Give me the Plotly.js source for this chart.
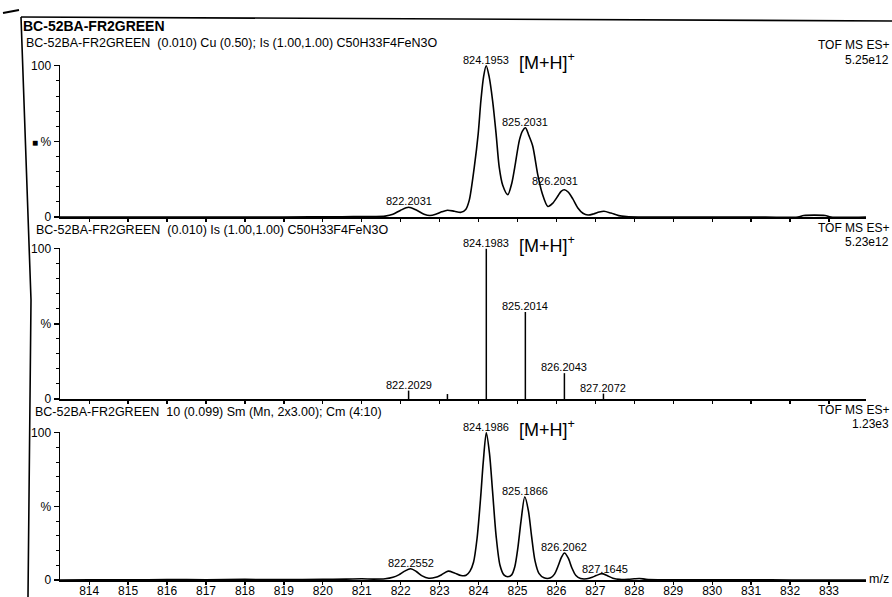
<!DOCTYPE html>
<html>
<head>
<meta charset="utf-8">
<script src="https://cdn.plot.ly/plotly-3.0.1.min.js"></script>
<style>
  html, body { margin: 0; padding: 0; background: #ffffff; }
  #chart { width: 892px; height: 597px; }
</style>
</head>
<body>
<div id="chart"></div>
<script>
// ---- Spectrum data -------------------------------------------------------
// Calculated isotope pattern (profile), relative intensity %
const calcProfileMz = [813.25, 815, 817, 819, 820.5, 821.3, 821.6, 821.8, 822.0, 822.2031, 822.4, 822.6, 822.75,
  822.9, 823.05, 823.2, 823.38, 823.55, 823.67, 823.76, 823.89, 823.99, 824.06, 824.13, 824.1953, 824.27,
  824.36, 824.45, 824.53, 824.62, 824.75, 824.85, 824.93, 825.05, 825.13, 825.2031, 825.29, 825.39, 825.52,
  825.63, 825.78, 825.9, 826.04, 826.12, 826.2031, 826.3, 826.42, 826.55, 826.68, 826.81, 826.95, 827.1,
  827.22, 827.4, 827.6, 827.8, 828.1, 829, 830, 831, 832.2, 832.35, 832.9, 833.05, 833.95];
const calcProfilePct = [0, 0, 0, 0, 0.2, 0.3, 0.6, 1.8, 4.5, 6.4, 4.6, 1.9, 1.0,
  1.8, 3.4, 4.5, 3.8, 3.1, 5, 11, 33, 55, 77, 93, 100, 93,
  77, 55, 33, 21, 14.8, 22, 33, 51, 57, 59, 54, 47, 28,
  16, 7, 9, 14, 17, 18, 16.5, 12, 6, 2.5, 1.3, 2, 3.3,
  3.8, 2.6, 0.9, 0.3, 0, 0, 0, 0, 0, 1, 1, 0, 0];
const calcLabelMz = [822.2031, 824.1953, 825.2031, 826.2031];

// Calculated isotope pattern (centroid sticks)
const stickMz = [822.2029, 823.2, 824.1983, 825.2014, 826.2043, 827.2072];
const stickPct = [5.6, 3.3, 100, 57.9, 17.2, 3.6];
const stickLabelMz = [822.2029, 824.1983, 825.2014, 826.2043, 827.2072];

// Measured spectrum (profile)
const measMz = [813.25, 814, 815, 816, 817, 818, 819, 820, 820.6, 821, 821.3, 821.6, 821.8, 821.95, 822.1,
  822.2552, 822.4, 822.55, 822.72, 822.9, 823.05, 823.22, 823.38, 823.55, 823.68, 823.78, 823.87, 823.96,
  824.05, 824.12, 824.1986, 824.28, 824.36, 824.45, 824.55, 824.65, 824.75, 824.85, 824.93, 825.01, 825.09,
  825.1866, 825.28, 825.36, 825.45, 825.55, 825.68, 825.85, 825.95, 826.05, 826.13, 826.2062, 826.3, 826.4,
  826.5, 826.62, 826.78, 826.92, 827.02, 827.1645, 827.3, 827.45, 827.62, 827.85, 828.0, 828.13, 828.3,
  828.6, 829.5, 830.5, 831.5, 832.5, 833.95];
const measPct = [0, 0.2, 0.1, 0.3, 0.2, 0.4, 0.3, 0.5, 0.6, 0.8, 0.6, 0.8, 1.8, 3.5, 6,
  7.6, 5.8, 2.8, 1.2, 1.8, 3.6, 6, 4.8, 3, 3.2, 6, 12, 28,
  55, 80, 100, 86, 60, 30, 10, 3.5, 2.2, 3.5, 9, 22, 40,
  56.5, 47, 30, 13, 4.5, 1.5, 1.5, 4, 10, 15.5, 18.3, 15, 8,
  3, 1, 0.8, 1.8, 3, 4.3, 3, 1.2, 0.4, 0.5, 0.8, 1, 0.5,
  0.2, 0.2, 0.1, 0.1, 0, 0];
const measLabelMz = [822.2552, 824.1986, 825.1866, 826.2062, 827.1645];

// Header texts
const mainTitle = 'BC-52BA-FR2GREEN';
const panelTitles = [
  'BC-52BA-FR2GREEN  (0.010) Cu (0.50); Is (1.00,1.00) C50H33F4FeN3O',
  'BC-52BA-FR2GREEN  (0.010) Is (1.00,1.00) C50H33F4FeN3O',
  'BC-52BA-FR2GREEN  10 (0.099) Sm (Mn, 2x3.00); Cm (4:10)'
];
const panelMode = 'TOF MS ES+';
const panelIntensity = ['5.25e12', '5.23e12', '1.23e3'];
const ionLabel = '[M+H]<sup>+</sup>';

// ---- Page geometry (pixels) ---------------------------------------------
const W = 892, H = 597;
const px = v => v / W;
const py = v => 1 - v / H;
const FONT = 'Liberation Sans, Arial, Helvetica, sans-serif';
const INK = '#000000';

// plot rows: [pixel of 0 %, pixel of 100 %]
const rows = [[217, 65], [399, 248], [580, 432]];
const xDom = [px(60), px(866)];
const mzRange = [813.25, 833.95];

function valueAt(xs, ys, m) {
  const i = xs.indexOf(m);
  return ys[i];
}

// ---- Traces --------------------------------------------------------------
const traces = [];
traces.push({
  x: calcProfileMz, y: calcProfilePct, xaxis: 'x2', yaxis: 'y2', type: 'scatter', mode: 'lines',
  line: { color: INK, width: 1.6, shape: 'spline', smoothing: 0.8 }, hoverinfo: 'skip'
});
const sx = [], sy = [];
stickMz.forEach((m, i) => { sx.push(m, m, null); sy.push(0, stickPct[i], null); });
traces.push({
  x: sx, y: sy, xaxis: 'x3', yaxis: 'y3', type: 'scatter', mode: 'lines',
  line: { color: INK, width: 1.5 }, hoverinfo: 'skip'
});
traces.push({
  x: measMz, y: measPct, xaxis: 'x', yaxis: 'y', type: 'scatter', mode: 'lines',
  line: { color: INK, width: 1.6, shape: 'spline', smoothing: 0.8 }, hoverinfo: 'skip'
});

// ---- Axes ----------------------------------------------------------------
function xAxis(anchor, labels) {
  return {
    domain: xDom, range: mzRange, anchor: anchor,
    tick0: 814, dtick: 1, ticks: 'outside', ticklen: 3, tickwidth: 1.3, tickcolor: INK,
    ticklabelstandoff: -4,
    showline: true, linecolor: INK, linewidth: 1.5,
    showgrid: false, zeroline: false, showticklabels: labels,
    tickfont: { family: FONT, size: 12, color: INK }
  };
}
function yAxis(row, anchor) {
  return {
    domain: [py(row[0]), py(row[1])], range: [0, 100.5], anchor: anchor,
    tickmode: 'array', tickvals: [0, 50, 100], ticktext: ['0', '%', '100'],
    ticks: 'outside', ticklen: 5, tickwidth: 1.3, tickcolor: INK,
    minor: { dtick: 10, ticks: 'outside', ticklen: 3, tickwidth: 1, tickcolor: INK },
    showline: true, linecolor: INK, linewidth: 1.5,
    showgrid: false, zeroline: false,
    tickfont: { family: FONT, size: 12, color: INK }
  };
}

// ---- Annotations ---------------------------------------------------------
const ann = [];
function txt(x, y, text, size, opts) {
  ann.push(Object.assign({
    xref: 'paper', yref: 'paper', x: px(x), y: py(y), text: text, showarrow: false,
    xanchor: 'left', yanchor: 'middle',
    font: { family: FONT, size: size, color: INK }
  }, opts || {}));
}
txt(21, 26, '<b>' + mainTitle + '</b>', 14);
txt(24, 43, panelTitles[0], 12.5);
txt(34, 230, panelTitles[1], 12.5);
txt(33, 412, panelTitles[2], 12.5);
[[45, 60], [228, 242], [410, 424]].forEach((p, i) => {
  txt(891, p[0], panelMode, 12, { xanchor: 'right' });
  txt(891, p[1], panelIntensity[i], 12, { xanchor: 'right' });
});
txt(879, 579, 'm/z', 12.5, { xanchor: 'center' });
txt(35, 142, '■', 10, { xanchor: 'center' });

function peakLabels(xs, ys, labelMz, xa, ya, tweak) {
  labelMz.forEach(m => {
    const t = (tweak && tweak[m]) || [0, 0];
    ann.push({
      xref: xa, yref: ya, x: m, y: valueAt(xs, ys, m), text: m.toFixed(4), showarrow: false,
      xanchor: 'center', yanchor: 'middle', xshift: t[0], yshift: 6 + t[1],
      font: { family: FONT, size: 11, color: INK }
    });
  });
}
peakLabels(calcProfileMz, calcProfilePct, calcLabelMz, 'x2', 'y2', { 826.2031: [-9, 3] });
peakLabels(stickMz, stickPct, stickLabelMz, 'x3', 'y3');
peakLabels(measMz, measPct, measLabelMz, 'x', 'y', { 827.1645: [3, -1] });

// ion label beside each base peak
[[calcProfileMz, calcProfilePct, 824.1953, 'x2', 'y2'],
 [stickMz, stickPct, 824.1983, 'x3', 'y3'],
 [measMz, measPct, 824.1986, 'x', 'y']].forEach(r => {
  ann.push({
    xref: r[3], yref: r[4], x: r[2], y: valueAt(r[0], r[1], r[2]), text: ionLabel, showarrow: false,
    xanchor: 'left', yanchor: 'middle', xshift: 31, yshift: 4,
    font: { family: FONT, size: 18, color: INK }
  });
});

// ---- Page frame ------------------------------------------------------------
const shapes = [
  { type: 'path', xref: 'paper', yref: 'paper',
    path: `M ${px(21)},${py(17)} L ${px(892)},${py(21)}`,
    line: { color: INK, width: 1.6 } },
  { type: 'path', xref: 'paper', yref: 'paper',
    path: `M ${px(21)},${py(17)} L ${px(31)},${py(300)} L ${px(28)},${py(597)}`,
    line: { color: INK, width: 1.6 } },
  { type: 'path', xref: 'paper', yref: 'paper',
    path: `M ${px(3)},${py(13)} L ${px(19)},${py(10)}`,
    line: { color: INK, width: 2.2 } }
];

const layout = {
  width: W, height: H,
  margin: { l: 0, r: 0, t: 0, b: 0 },
  paper_bgcolor: '#ffffff', plot_bgcolor: 'rgba(0,0,0,0)',
  showlegend: false,
  xaxis: xAxis('y', true),
  yaxis: yAxis(rows[2], 'x'),
  xaxis2: xAxis('y2', false),
  yaxis2: yAxis(rows[0], 'x2'),
  xaxis3: xAxis('y3', false),
  yaxis3: yAxis(rows[1], 'x3'),
  annotations: ann,
  shapes: shapes
};

Plotly.newPlot('chart', traces, layout, { staticPlot: true, displayModeBar: false });
</script>
</body>
</html>
